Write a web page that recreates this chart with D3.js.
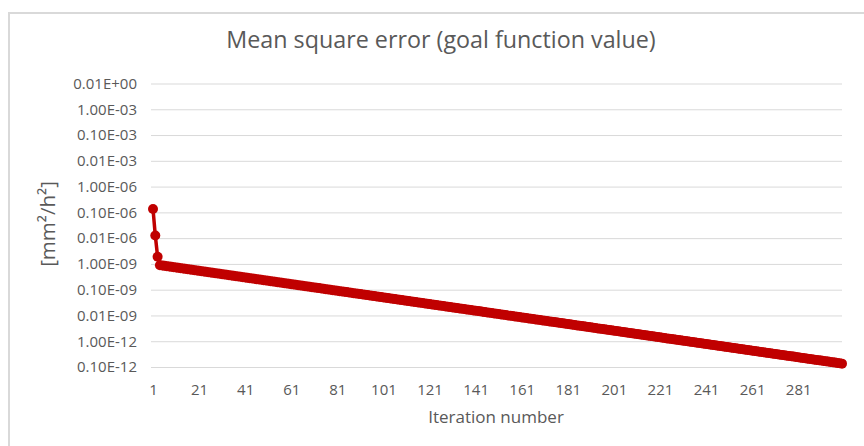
<!DOCTYPE html>
<html>
<head>
<meta charset="utf-8">
<script src="https://cdn.jsdelivr.net/npm/d3@7"></script>
<style>
  body { margin: 0; background: #fff; }
  svg text { font-family: "Open Sans", sans-serif; fill: #595959; }
</style>
</head>
<body>
<div class="chart"></div>
<script>
// goal function value per iteration (1..300)
var mse = [
  1.36e-7, 1.26e-8, 1.9e-9,
  8.91e-10, 8.65e-10, 8.40e-10, 8.15e-10, 7.91e-10, 7.68e-10, 7.46e-10, 7.24e-10, 7.03e-10, 6.82e-10,
  6.62e-10, 6.43e-10, 6.24e-10, 6.06e-10, 5.88e-10, 5.71e-10, 5.54e-10, 5.38e-10, 5.22e-10, 5.07e-10,
  4.92e-10, 4.78e-10, 4.64e-10, 4.50e-10, 4.37e-10, 4.24e-10, 4.12e-10, 4.00e-10, 3.88e-10, 3.77e-10,
  3.66e-10, 3.55e-10, 3.44e-10, 3.34e-10, 3.25e-10, 3.15e-10, 3.06e-10, 2.97e-10, 2.88e-10, 2.80e-10,
  2.72e-10, 2.64e-10, 2.56e-10, 2.49e-10, 2.41e-10, 2.34e-10, 2.27e-10, 2.21e-10, 2.14e-10, 2.08e-10,
  2.02e-10, 1.96e-10, 1.90e-10, 1.85e-10, 1.79e-10, 1.74e-10, 1.69e-10, 1.64e-10, 1.59e-10, 1.55e-10,
  1.50e-10, 1.46e-10, 1.41e-10, 1.37e-10, 1.33e-10, 1.29e-10, 1.25e-10, 1.22e-10, 1.18e-10, 1.15e-10,
  1.11e-10, 1.08e-10, 1.05e-10, 1.02e-10,
  9.89e-11, 9.61e-11, 9.32e-11, 9.05e-11, 8.79e-11, 8.53e-11,
  8.28e-11, 8.04e-11, 7.80e-11, 7.57e-11, 7.35e-11, 7.14e-11, 6.93e-11, 6.73e-11, 6.53e-11, 6.34e-11,
  6.15e-11, 5.97e-11, 5.80e-11, 5.63e-11, 5.46e-11, 5.30e-11, 5.15e-11, 5.00e-11, 4.85e-11, 4.71e-11,
  4.57e-11, 4.44e-11, 4.31e-11, 4.18e-11, 4.06e-11, 3.94e-11, 3.82e-11, 3.71e-11, 3.60e-11, 3.50e-11,
  3.40e-11, 3.30e-11, 3.20e-11, 3.11e-11, 3.02e-11, 2.93e-11, 2.84e-11, 2.76e-11, 2.68e-11, 2.60e-11,
  2.52e-11, 2.45e-11, 2.38e-11, 2.31e-11, 2.24e-11, 2.18e-11, 2.11e-11, 2.05e-11, 1.99e-11, 1.93e-11,
  1.87e-11, 1.82e-11, 1.77e-11, 1.72e-11, 1.67e-11, 1.62e-11, 1.57e-11, 1.52e-11, 1.48e-11, 1.44e-11,
  1.39e-11, 1.35e-11, 1.31e-11, 1.27e-11, 1.24e-11, 1.20e-11, 1.17e-11, 1.13e-11, 1.10e-11, 1.07e-11,
  1.035e-11, 1.005e-11,
  9.75e-12, 9.47e-12, 9.19e-12, 8.92e-12, 8.66e-12, 8.41e-12, 8.16e-12, 7.92e-12,
  7.69e-12, 7.47e-12, 7.25e-12, 7.04e-12, 6.83e-12, 6.63e-12, 6.44e-12, 6.25e-12, 6.07e-12, 5.89e-12,
  5.71e-12, 5.55e-12, 5.39e-12, 5.23e-12, 5.08e-12, 4.93e-12, 4.78e-12, 4.64e-12, 4.51e-12, 4.37e-12,
  4.25e-12, 4.12e-12, 4.00e-12, 3.88e-12, 3.77e-12, 3.66e-12, 3.55e-12, 3.45e-12, 3.35e-12, 3.25e-12,
  3.15e-12, 3.06e-12, 2.97e-12, 2.89e-12, 2.80e-12, 2.72e-12, 2.64e-12, 2.56e-12, 2.49e-12, 2.42e-12,
  2.34e-12, 2.28e-12, 2.21e-12, 2.14e-12, 2.08e-12, 2.02e-12, 1.96e-12, 1.90e-12, 1.85e-12, 1.79e-12,
  1.74e-12, 1.69e-12, 1.64e-12, 1.59e-12, 1.55e-12, 1.50e-12, 1.46e-12, 1.42e-12, 1.37e-12, 1.33e-12,
  1.29e-12, 1.26e-12, 1.22e-12, 1.18e-12, 1.15e-12, 1.12e-12, 1.08e-12, 1.05e-12, 1.02e-12,
  9.91e-13, 9.62e-13, 9.34e-13, 9.06e-13, 8.80e-13, 8.54e-13, 8.29e-13, 8.05e-13, 7.81e-13, 7.58e-13, 7.36e-13,
  7.15e-13, 6.94e-13, 6.73e-13, 6.54e-13, 6.35e-13, 6.16e-13, 5.98e-13, 5.80e-13, 5.63e-13, 5.47e-13,
  5.31e-13, 5.15e-13, 5.00e-13, 4.86e-13, 4.71e-13, 4.58e-13, 4.44e-13, 4.31e-13, 4.19e-13, 4.06e-13,
  3.94e-13, 3.83e-13, 3.72e-13, 3.61e-13, 3.50e-13, 3.40e-13, 3.30e-13, 3.20e-13, 3.11e-13, 3.02e-13,
  2.93e-13, 2.85e-13, 2.76e-13, 2.68e-13, 2.60e-13, 2.53e-13, 2.45e-13, 2.38e-13, 2.31e-13, 2.24e-13,
  2.18e-13, 2.11e-13, 2.05e-13, 1.99e-13, 1.93e-13, 1.88e-13, 1.82e-13, 1.77e-13, 1.72e-13, 1.67e-13,
  1.62e-13, 1.57e-13, 1.53e-13, 1.48e-13, 1.44e-13, 1.39e-13, 1.35e-13
];

var xTicks = [1, 21, 41, 61, 81, 101, 121, 141, 161, 181, 201, 221, 241, 261, 281];
var yTicks = [1e-2, 1e-3, 1e-4, 1e-5, 1e-6, 1e-7, 1e-8, 1e-9, 1e-10, 1e-11, 1e-12, 1e-13];
var yTickLabels = ["0.01E+00", "1.00E-03", "0.10E-03", "0.01E-03", "1.00E-06", "0.10E-06",
  "0.01E-06", "1.00E-09", "0.10E-09", "0.01E-09", "1.00E-12", "0.10E-12"];

(function() {
  'use strict';

  var width = 864;
  var height = 446;
  var red = "#c00000";

  var svg = d3.select(".chart").append("svg")
    .attr("width", width)
    .attr("height", height);

  // chart frame (runs off the right and bottom edge like the screenshot)
  svg.append("rect")
    .attr("x", 9)
    .attr("y", 13)
    .attr("width", 900)
    .attr("height", 500)
    .attr("fill", "none")
    .attr("stroke", "#d9d9d9")
    .attr("stroke-width", 2);

  var x = d3.scaleLinear()
    .domain([1, mse.length])
    .range([153, 842]);

  var y = d3.scaleLog()
    .domain([1e-13, 1e-2])
    .range([367, 83.5]);

  // gridlines + y labels
  var yAxis = d3.axisLeft(y)
    .tickValues(yTicks)
    .tickSize(-(842 - 151))
    .tickPadding(14)
    .tickFormat(function(d, i) { return yTickLabels[i]; });

  var gy = svg.append("g")
    .attr("transform", "translate(151,0)")
    .call(yAxis);
  gy.select(".domain").remove();
  gy.selectAll(".tick line").attr("stroke", "#d9d9d9");
  gy.selectAll(".tick text")
    .attr("font-size", 15)
    .attr("font-family", null);

  var xAxis = d3.axisBottom(x)
    .tickValues(xTicks)
    .tickSize(0)
    .tickPadding(0)
    .tickFormat(d3.format("d"));

  var gx = svg.append("g")
    .attr("transform", "translate(0,384)")
    .call(xAxis);
  gx.select(".domain").remove();
  gx.selectAll(".tick text")
    .attr("font-size", 15)
    .attr("font-family", null);

  // series
  var line = d3.line()
    .x(function(d, i) { return x(i + 1); })
    .y(function(d) { return y(d); });

  svg.append("path")
    .datum(mse)
    .attr("d", line)
    .attr("fill", "none")
    .attr("stroke", red)
    .attr("stroke-width", 3.5)
    .attr("stroke-linejoin", "round");

  svg.append("g").selectAll("circle")
    .data(mse)
    .enter().append("circle")
    .attr("cx", function(d, i) { return x(i + 1); })
    .attr("cy", function(d) { return y(d); })
    .attr("r", 5)
    .attr("fill", red);

  // titles
  svg.append("text")
    .attr("x", 441)
    .attr("y", 48)
    .attr("text-anchor", "middle")
    .attr("font-size", 23.3)
    .text("Mean square error (goal function value)");

  svg.append("text")
    .attr("x", 496)
    .attr("y", 423)
    .attr("text-anchor", "middle")
    .attr("font-size", 17)
    .text("Iteration number");

  svg.append("text")
    .attr("transform", "translate(55,224) rotate(-90)")
    .attr("text-anchor", "middle")
    .attr("font-size", 20.5)
    .text("[mm²/h²]");
})();
</script>
</body>
</html>
